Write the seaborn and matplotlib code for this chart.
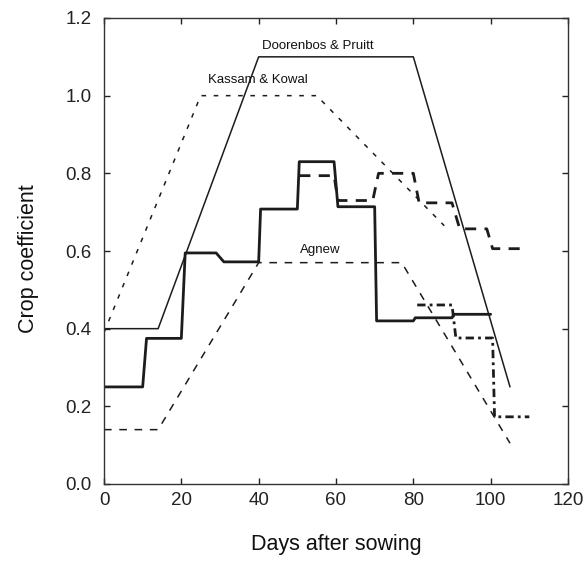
import matplotlib
matplotlib.use("Agg")
import matplotlib.pyplot as plt
import seaborn as sns
import pandas as pd

# ---- data ----
doorenbos_x = [0, 14, 40, 80, 105]
doorenbos_y = [0.40, 0.40, 1.10, 1.10, 0.25]

kassam_x = [0, 25, 55, 88]
kassam_y = [0.39, 1.00, 1.00, 0.665]

agnew_x = [0, 14, 40, 77, 105]
agnew_y = [0.14, 0.14, 0.57, 0.57, 0.105]

measured_x = [0, 10, 11, 20, 21, 29, 31, 40, 40.5, 50, 50.5, 59.5, 60.5, 70, 70.5, 80, 80.5, 90, 90.5, 100]
measured_y = [0.25, 0.25, 0.375, 0.375, 0.595, 0.595, 0.572, 0.572, 0.708, 0.708,
              0.83, 0.83, 0.714, 0.714, 0.42, 0.42, 0.428, 0.428, 0.437, 0.437]

measured2_x = [50.5, 59.5, 60.5, 69.5, 71, 80, 81.5, 90, 92, 99, 100.5, 109]
measured2_y = [0.794, 0.794, 0.73, 0.73, 0.80, 0.80, 0.724, 0.724, 0.657, 0.657, 0.606, 0.606]

measured3_x = [81, 90, 91, 100.5, 101, 110]
measured3_y = [0.461, 0.461, 0.376, 0.376, 0.173, 0.173]

labels = ["Doorenbos & Pruitt", "Kassam & Kowal", "Agnew"]
label_x = [55.3, 39.7, 56.0]
label_y = [1.128, 1.04, 0.603]

xticks = [0, 20, 40, 60, 80, 100, 120]
yticks = [0.0, 0.2, 0.4, 0.6, 0.8, 1.0, 1.2]

# ---- plotting ----
sns.set_style("ticks")
plt.rcParams["font.family"] = ["Liberation Sans", "DejaVu Sans"]

fig = plt.figure(figsize=(5.88, 5.67), dpi=100)
ax = fig.add_axes([104 / 588, 1 - 484 / 567, 464 / 588, 466 / 567])

col = "#1c1c1c"

def draw(x, y, **kw):
    df = pd.DataFrame({"x": x, "y": y})
    sns.lineplot(data=df, x="x", y="y", sort=False, estimator=None, ax=ax,
                 color=col, **kw)

draw(doorenbos_x, doorenbos_y, linewidth=1.1)
draw(kassam_x, kassam_y, linewidth=1.1, linestyle=(0, (3, 5)))
draw(agnew_x, agnew_y, linewidth=1.1, linestyle=(0, (5, 5)))
draw(measured_x, measured_y, linewidth=2.0)
draw(measured2_x, measured2_y, linewidth=2.0, linestyle=(0, (4, 3)))
draw(measured3_x, measured3_y, linewidth=2.0, linestyle=(0, (3, 1.5, 1, 1.5)))

for t, x, y in zip(labels, label_x, label_y):
    ax.text(x, y, t, ha="center", va="center", fontsize=9.5, color="#111111")

ax.set_xlim(0, 120)
ax.set_ylim(0, 1.2)
ax.set_xticks(xticks)
ax.set_yticks(yticks)
ax.set_xticklabels([str(v) for v in xticks])
ax.set_yticklabels([f"{v:.1f}" for v in yticks])
ax.tick_params(direction="in", length=4.5, width=1.0, top=True, right=True,
               labelsize=13.5, colors="#222222")
ax.tick_params(axis="x", pad=6)
ax.tick_params(axis="y", pad=9)
for s in ax.spines.values():
    s.set_visible(True)
    s.set_linewidth(1.0)
    s.set_color("#333333")

ax.set_xlabel("Days after sowing", fontsize=15.5, color="#111111")
ax.set_ylabel("Crop coefficient", fontsize=15.5, color="#111111")
ax.xaxis.set_label_coords(0.5, -0.108)
ax.yaxis.set_label_coords(-0.14, 0.483)

fig.savefig("out.png", dpi=100)
